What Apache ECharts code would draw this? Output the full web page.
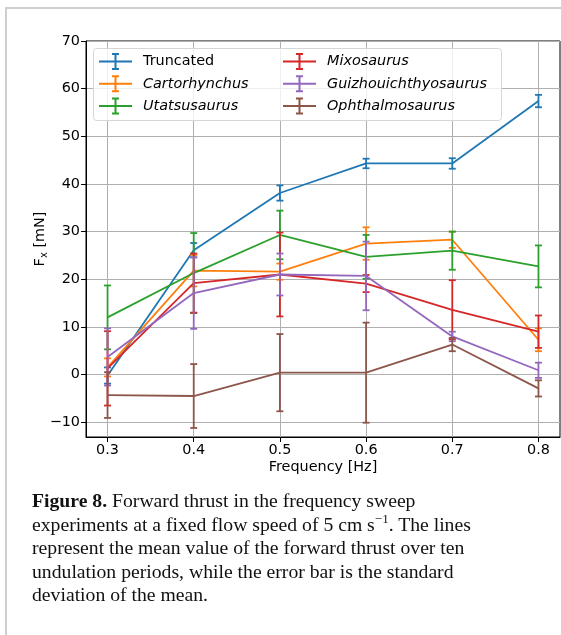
<!DOCTYPE html>
<html>
<head>
<meta charset="utf-8">
<script src="https://cdn.jsdelivr.net/npm/echarts@6/dist/echarts.min.js"></script>
<style>
  html, body { margin: 0; padding: 0; background: #fff; }
  #chart { position: absolute; left: 0; top: 0; width: 561px; height: 635px; }
  #frame { position: absolute; left: 5px; top: 7px; width: 600px; height: 700px;
           border-left: 2px solid #cfcfcf; border-top: 2px solid #cfcfcf; }
  #caption { position: absolute; left: 32px; top: 489px; white-space: nowrap;
             font-family: "Liberation Serif", "DejaVu Serif", serif; font-size: 19.7px;
             line-height: 23.6px; color: #111; }
  #caption sup { font-size: 13px; line-height: 0; vertical-align: 8px; }
</style>
</head>
<body>
<div id="frame"></div>
<div id="chart"></div>
<div id="caption"><b>Figure 8.</b> Forward thrust in the frequency sweep<br>experiments at a fixed flow speed of 5 cm s<sup>−1</sup>. The lines<br>represent the mean value of the forward thrust over ten<br>undulation periods, while the error bar is the standard<br>deviation of the mean.</div>
<script>
// ---- data ----
const freqs = [0.3, 0.4, 0.5, 0.6, 0.7, 0.8];
const xTicks = [0.3, 0.4, 0.5, 0.6, 0.7, 0.8];
const yTicks = [-10, 0, 10, 20, 30, 40, 50, 60, 70];
const seriesNames = ['Truncated', 'Cartorhynchus', 'Utatsusaurus', 'Mixosaurus', 'Guizhouichthyosaurus', 'Ophthalmosaurus'];
const truncMean = [-0.2, 26.1, 38.1, 44.3, 44.3, 57.4];
const truncErr  = [1.7, 1.5, 1.6, 1.0, 1.1, 1.3];
const cartMean  = [1.5, 21.8, 21.6, 27.5, 28.3, 7.3];
const cartErr   = [1.9, 3.3, 1.7, 3.4, 1.7, 2.4];
const utaMean   = [12.0, 21.3, 29.3, 24.7, 26.0, 22.7];
const utaErr    = [6.7, 8.4, 5.1, 4.6, 4.0, 4.4];
const mixMean   = [1.3, 19.2, 21.0, 19.1, 13.6, 9.0];
const mixErr    = [7.8, 6.2, 8.8, 1.8, 6.2, 3.4];
const guiMean   = [3.7, 17.1, 21.0, 20.7, 8.0, 0.9];
const guiErr    = [6.0, 7.5, 4.4, 7.2, 1.0, 1.6];
const ophMean   = [-4.3, -4.5, 0.4, 0.4, 6.3, -2.9];
const ophErr    = [4.8, 6.7, 8.1, 10.5, 1.4, 1.7];

const means = [truncMean, cartMean, utaMean, mixMean, guiMean, ophMean];
const errs  = [truncErr, cartErr, utaErr, mixErr, guiErr, ophErr];
const colors = ['#1f77b4', '#ff7f0e', '#2ca02c', '#d62728', '#9467bd', '#8c564b'];

const FONT = 'DejaVu Sans';
const LW = 1.8;
const icon = 'path://M0,7.5 L33,7.5 L33,9.5 L0,9.5 Z M15.5,0 L17.5,0 L17.5,17 L15.5,17 Z M13,0 L20,0 L20,2 L13,2 Z M13,15 L20,15 L20,17 L13,17 Z M39,8 L39,8.02 L38.98,8.02 Z';

function errRender(params, api) {
  const x = api.value(0), m = api.value(1), e = api.value(2);
  const top = api.coord([x, m + e]);
  const bot = api.coord([x, m - e]);
  const c = api.visual('color');
  const hw = 3.5;
  const st = { stroke: c, lineWidth: LW };
  return { type: 'group', children: [
    { type: 'line', shape: { x1: top[0], y1: top[1], x2: bot[0], y2: bot[1] }, style: st },
    { type: 'line', shape: { x1: top[0] - hw, y1: top[1], x2: top[0] + hw, y2: top[1] }, style: st },
    { type: 'line', shape: { x1: bot[0] - hw, y1: bot[1], x2: bot[0] + hw, y2: bot[1] }, style: st }
  ]};
}

const series = [];
seriesNames.forEach((name, i) => {
  series.push({
    name: name, type: 'custom', renderItem: errRender,
    itemStyle: { color: colors[i] },
    encode: { x: 0, y: 1 },
    data: freqs.map((f, j) => [f, means[i][j], errs[i][j]]),
    z: 2 + i * 2, silent: true
  });
  series.push({
    name: name, type: 'line', symbol: 'none',
    lineStyle: { color: colors[i], width: LW },
    itemStyle: { color: colors[i] },
    data: freqs.map((f, j) => [f, means[i][j]]),
    z: 2 + i * 2, silent: true
  });
});

function legendFmt(name) {
  return name === 'Truncated' ? '{n|' + name + '}' : '{i|' + name + '}';
}
const legendText = {
  fontFamily: FONT, fontSize: 14.4, color: '#000',
  rich: {
    n: { fontFamily: FONT, fontSize: 14.4, color: '#000' },
    i: { fontFamily: FONT, fontSize: 14.4, color: '#000', fontStyle: 'italic' }
  }
};
function legendData(names, offset) {
  return names.map((n, k) => ({ name: n, icon: icon, itemStyle: { color: colors[offset + k] } }));
}

const chart = echarts.init(document.getElementById('chart'), null, { renderer: 'canvas' });
chart.setOption({
  animation: false,
  backgroundColor: 'transparent',
  grid: { left: 86, right: 1, top: 41, bottom: 198, show: true, borderColor: '#000', borderWidth: 1, backgroundColor: 'transparent' },
  xAxis: {
    type: 'value', min: 0.275, max: 0.825,
    name: 'Frequency [Hz]', nameLocation: 'middle', nameGap: 23, nameMoveOverlap: false,
    nameTextStyle: { fontFamily: FONT, fontSize: 14.4, color: '#000' },
    axisLine: { show: true, onZero: false, lineStyle: { color: '#000', width: 1 } },
    axisTick: { show: true, length: 5, lineStyle: { color: '#000', width: 1 }, customValues: xTicks },
    axisLabel: { customValues: xTicks, margin: 6, fontFamily: FONT, fontSize: 14.4, color: '#000',
                 formatter: v => v.toFixed(1) },
    splitLine: { show: true, lineStyle: { color: '#b0b0b0', width: 1 } }
  },
  yAxis: {
    type: 'value', min: -13.1, max: 70,
    name: '{f|F}{s|x}{f| [mN]}', nameLocation: 'middle', nameGap: 37, nameRotate: 90, nameMoveOverlap: false,
    nameTextStyle: {
      fontFamily: FONT, fontSize: 14.4, color: '#000',
      rich: {
        f: { fontFamily: FONT, fontSize: 14.4, color: '#000' },
        s: { fontFamily: FONT, fontSize: 10, color: '#000', padding: [7, 0, 0, 0] }
      }
    },
    axisLine: { show: true, onZero: false, lineStyle: { color: '#000', width: 1 } },
    axisTick: { show: true, length: 5, lineStyle: { color: '#000', width: 1 }, customValues: yTicks },
    axisLabel: { customValues: yTicks, margin: 6, fontFamily: FONT, fontSize: 14.4, color: '#000',
                 formatter: v => (v < 0 ? '\u2212' + Math.abs(v) : String(v)) },
    splitLine: { show: true, lineStyle: { color: '#b0b0b0', width: 1 } }
  },
  graphic: [{
    type: 'rect', z: 50, left: 93, top: 48, silent: true,
    shape: { width: 408, height: 72, r: 3 },
    style: { fill: 'rgba(255,255,255,0.8)', stroke: '#d6d6d6', lineWidth: 1 }
  }],
  legend: [
    { orient: 'vertical', left: 99, top: 53, padding: 0, itemWidth: 39, itemHeight: 17, itemGap: 5.3,
      z: 60, selectedMode: false, data: legendData(seriesNames.slice(0, 3), 0),
      formatter: legendFmt, textStyle: legendText },
    { orient: 'vertical', left: 283, top: 53, padding: 0, itemWidth: 39, itemHeight: 17, itemGap: 5.3,
      z: 60, selectedMode: false, data: legendData(seriesNames.slice(3), 3),
      formatter: legendFmt, textStyle: legendText }
  ],
  series: series
});
</script>
</body>
</html>
